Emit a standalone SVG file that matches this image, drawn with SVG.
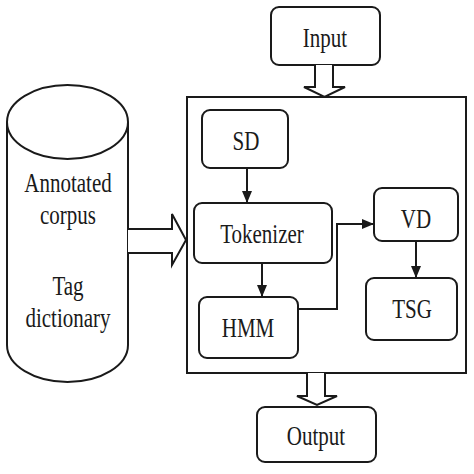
<svg xmlns="http://www.w3.org/2000/svg" width="474" height="474" viewBox="0 0 474 474">
<style>
.b{fill:#fff;stroke:#1a1a1a;stroke-width:2}
.l{fill:none;stroke:#1a1a1a;stroke-width:2}
.t{font-family:"Liberation Serif",serif;font-size:21px;fill:#1a1a1a;text-anchor:middle}
</style>
<defs>
<marker id="ah" viewBox="0 0 12 10" refX="12" refY="5" markerWidth="12" markerHeight="10" orient="auto" markerUnits="userSpaceOnUse">
<path d="M0,0 L12,5 L0,10 z" fill="#1a1a1a"/>
</marker>
</defs>
<rect width="474" height="474" fill="#fff"/>
<g id="corpus">
<path class="b" d="M7,122 L7,345 A60.5,37 0 0 0 128,345 L128,122"/>
<ellipse class="b" cx="67.5" cy="122" rx="60.5" ry="37"/>
<text class="t" transform="translate(68,192) scale(1,1.25)">Annotated</text>
<text class="t" transform="translate(68,224) scale(1,1.25)">corpus</text>
<text class="t" transform="translate(68,295) scale(1,1.25)">Tag</text>
<text class="t" transform="translate(68,327) scale(1,1.25)">dictionary</text>
</g>
<g id="main">
<rect class="b" x="187" y="97" width="279" height="276"/>
</g>
<g id="input">
<rect class="b" x="271" y="7" width="109" height="58" rx="8"/>
<text class="t" transform="translate(325,47) scale(1,1.25)">Input</text>
</g>
<g id="sd">
<rect class="b" x="202" y="110" width="86" height="58" rx="8"/>
<text class="t" transform="translate(246,150) scale(1,1.25)">SD</text>
</g>
<g id="tokenizer">
<rect class="b" x="194" y="203" width="138" height="60" rx="8"/>
<text class="t" transform="translate(262,243) scale(1,1.25)">Tokenizer</text>
</g>
<g id="hmm">
<rect class="b" x="199" y="297" width="99" height="61" rx="8"/>
<text class="t" transform="translate(248,337) scale(1,1.25)">HMM</text>
</g>
<g id="vd">
<rect class="b" x="374" y="188" width="84" height="53" rx="8"/>
<text class="t" transform="translate(416,228) scale(1,1.25)">VD</text>
</g>
<g id="tsg">
<rect class="b" x="366" y="278" width="91" height="62" rx="8"/>
<text class="t" transform="translate(412,318) scale(1,1.25)">TSG</text>
</g>
<g id="output">
<rect class="b" x="257" y="407" width="119" height="55" rx="8"/>
<text class="t" transform="translate(316,445) scale(1,1.25)">Output</text>
</g>
<g id="connectors">
<path class="b" d="M315,65 L315,87 L304,87 L324.5,97 L345,87 L333,87 L333,65"/>
<path class="b" d="M307,373 L307,396 L297,396 L317,405 L337,396 L325,396 L325,373"/>
<path class="b" d="M128,229 L172,229 L172,214 L186,240 L172,265 L172,253 L128,253"/>
<line class="l" x1="247" y1="168" x2="247" y2="203" marker-end="url(#ah)"/>
<line class="l" x1="262" y1="263" x2="262" y2="297" marker-end="url(#ah)"/>
<polyline class="l" points="298,309 337,309 337,224 374,224" marker-end="url(#ah)"/>
<line class="l" x1="416" y1="241" x2="416" y2="278" marker-end="url(#ah)"/>
</g>
</svg>
